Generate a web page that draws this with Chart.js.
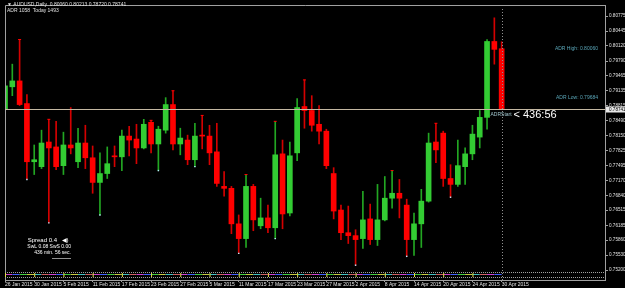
<!DOCTYPE html>
<html>
<head>
<meta charset="utf-8">
<script src="https://cdn.jsdelivr.net/npm/chart.js@4.4.1/dist/chart.umd.min.js"></script>
<style>
  html, body { margin: 0; padding: 0; background: #000; }
  #wrap { width: 625px; height: 288px; position: relative; }
</style>
</head>
<body>
<div id="wrap"><canvas id="chart"></canvas></div>
<script>
// AUDUSD daily candles, 26 Jan 2015 .. 30 Apr 2015
const tickDates = ['26 Jan 2015', '30 Jan 2015', '5 Feb 2015', '11 Feb 2015', '17 Feb 2015', '23 Feb 2015',
    '27 Feb 2015', '5 Mar 2015', '11 Mar 2015', '17 Mar 2015', '23 Mar 2015', '27 Mar 2015',
    '2 Apr 2015', '8 Apr 2015', '14 Apr 2015', '20 Apr 2015', '24 Apr 2015', '30 Apr 2015'];

const opens = [0.78726, 0.79224, 0.79353, 0.78856, 0.77579, 0.77471, 0.78012, 0.77904, 0.77493, 0.77947,
    0.77579, 0.77990, 0.77666, 0.77125, 0.77320, 0.77709, 0.77687, 0.78142, 0.78077, 0.77882,
    0.78445, 0.77969, 0.78272, 0.78834, 0.77969, 0.78055, 0.77623, 0.78163, 0.78142, 0.77796,
    0.77038, 0.76995, 0.76216, 0.75892, 0.77038, 0.76173, 0.76346, 0.76130, 0.77752, 0.76454,
    0.77774, 0.78791, 0.78704, 0.78401, 0.78250, 0.77320, 0.76519, 0.76021, 0.75957, 0.75892,
    0.76324, 0.75870, 0.76303, 0.76779, 0.76887, 0.76627, 0.75870, 0.76216, 0.76714, 0.78012,
    0.78207, 0.77211, 0.77082, 0.77471, 0.77752, 0.78120, 0.78553, 0.80219, 0.80060];

const highs = [0.79310, 0.79721, 0.80262, 0.79051, 0.77947, 0.78272, 0.78510, 0.78466, 0.78228, 0.78769,
    0.78315, 0.78380, 0.77925, 0.77774, 0.77904, 0.77925, 0.78272, 0.78358, 0.78401, 0.78510,
    0.78488, 0.78358, 0.78986, 0.79137, 0.78315, 0.78163, 0.78423, 0.78596, 0.78380, 0.78423,
    0.77363, 0.77038, 0.76411, 0.77298, 0.77082, 0.76779, 0.76627, 0.78466, 0.78055, 0.78012,
    0.78964, 0.79375, 0.79029, 0.78813, 0.78293, 0.77449, 0.76627, 0.76606, 0.76086, 0.76930,
    0.76649, 0.77082, 0.77255, 0.77385, 0.77190, 0.76757, 0.76454, 0.76973, 0.78207, 0.78423,
    0.78250, 0.77514, 0.78055, 0.77882, 0.78380, 0.78704, 0.80262, 0.80738, 0.80213];

const lows = [0.78575, 0.79029, 0.78813, 0.77190, 0.77298, 0.77428, 0.76238, 0.77406, 0.77298, 0.77752,
    0.77449, 0.77428, 0.76887, 0.76411, 0.77211, 0.77471, 0.77385, 0.77709, 0.77536, 0.77861,
    0.77774, 0.77385, 0.78207, 0.77839, 0.77731, 0.77514, 0.77471, 0.77861, 0.77514, 0.77038,
    0.76822, 0.76000, 0.75567, 0.75697, 0.76065, 0.76108, 0.76021, 0.75892, 0.76108, 0.76389,
    0.77601, 0.78315, 0.78250, 0.77969, 0.77428, 0.76324, 0.75870, 0.75784, 0.75308, 0.75675,
    0.75762, 0.75740, 0.76281, 0.76562, 0.76346, 0.75502, 0.75524, 0.75697, 0.76692, 0.77558,
    0.77038, 0.76800, 0.77038, 0.77082, 0.77623, 0.77882, 0.78293, 0.79721, 0.78720];

const closes = [0.79245, 0.79353, 0.78834, 0.77579, 0.77623, 0.77990, 0.77882, 0.77471, 0.77947, 0.77882,
    0.77990, 0.77666, 0.77125, 0.77320, 0.77536, 0.77687, 0.78142, 0.78055, 0.77882, 0.78401,
    0.77969, 0.78293, 0.78834, 0.77969, 0.78099, 0.77623, 0.78142, 0.78142, 0.77774, 0.77103,
    0.76995, 0.76216, 0.75892, 0.77038, 0.76303, 0.76346, 0.76130, 0.77731, 0.76433, 0.77709,
    0.78769, 0.78704, 0.78380, 0.78250, 0.77493, 0.76497, 0.76021, 0.75957, 0.75870, 0.76303,
    0.75870, 0.76303, 0.76779, 0.76887, 0.76779, 0.75870, 0.76216, 0.76714, 0.77990, 0.77839,
    0.77211, 0.77082, 0.77493, 0.77752, 0.78185, 0.78553, 0.80219, 0.80046, 0.78741];

// fractal markers (bar indexes)
const fractalUp = [2, 6, 20, 23, 27, 33, 37, 41, 53, 59];
const fractalDown = [3, 6, 13, 21, 26, 32, 37, 48, 55, 61];

const priceTicks = [0.80775, 0.80445, 0.80120, 0.79790, 0.79465, 0.79135, 0.78815, 0.78490, 0.78150,
    0.77825, 0.77495, 0.77170, 0.76840, 0.76515, 0.76185, 0.75860, 0.75530, 0.75200];

const adrHigh = 0.80060;
const adrLow = 0.79684;
const adrText = 'ADR 1058  Today 1493';
const timer = '436:56';

const GREEN = '#33cc33';
const RED = '#ff0000';
const last = closes.length - 1;
const isUp = closes.map((c, i) => c >= opens[i]);
const FONT = "'Liberation Sans', 'DejaVu Sans', sans-serif";

// extra drawing: frame, bid line, texts, bottom strip
const mtPlugin = {
    id: 'mt4extras',
    afterDraw(chart) {
        const ctx = chart.ctx;
        const ca = chart.chartArea;
        const xs = chart.scales.x, ys = chart.scales.y;
        ctx.save();

        // frame top/left
        ctx.strokeStyle = '#a0a0a0';
        ctx.lineWidth = 1;
        ctx.beginPath();
        ctx.moveTo(ca.left + 0.5, ca.bottom);
        ctx.lineTo(ca.left + 0.5, ca.top + 0.5);
        ctx.lineTo(ca.right, ca.top + 0.5);
        ctx.stroke();

        // bottom indicator strip
        const palette = ['#d040d0', '#4060ff', '#40d040', '#c8c840', '#40c0c0', '#d06060'];
        ctx.setLineDash([1, 1]);
        ctx.strokeStyle = '#a0a0a0';
        [ca.bottom - 7.5, ca.bottom - 2.5].forEach(yy => {
            ctx.beginPath();
            ctx.moveTo(ca.left, yy);
            ctx.lineTo(ca.right, yy);
            ctx.stroke();
        });
        ctx.setLineDash([]);
        for (let i = 0; i < last; i++) {
            const x0 = xs.getPixelForValue(i), x1 = xs.getPixelForValue(i + 1);
            ctx.strokeStyle = palette[i % palette.length];
            ctx.beginPath();
            ctx.moveTo(x0, ca.bottom - 5.5);
            ctx.lineTo(x1, ca.bottom - 5.5);
            ctx.stroke();
            if (i % 4 === 0) {
                ctx.strokeStyle = '#e0e040';
                ctx.beginPath();
                ctx.moveTo(x0 + 0.5, ca.bottom - 7);
                ctx.lineTo(x0 + 0.5, ca.bottom - 3);
                ctx.stroke();
            }
        }

        // vertical dotted line on current bar
        const vx = Math.round(xs.getPixelForValue(last)) + 0.5;
        ctx.strokeStyle = '#909090';
        ctx.setLineDash([1, 2]);
        ctx.beginPath();
        ctx.moveTo(vx, ca.top + 4);
        ctx.lineTo(vx, ca.bottom);
        ctx.stroke();
        ctx.setLineDash([]);

        // bid line
        const by = Math.round(ys.getPixelForValue(closes[last])) + 0.5;
        ctx.strokeStyle = '#c4b8a2';
        ctx.beginPath();
        ctx.moveTo(ca.left, by);
        ctx.lineTo(ca.right, by);
        ctx.stroke();

        // price box on axis
        ctx.fillStyle = '#e8e8e8';
        ctx.fillRect(ca.right + 1, by - 3, 19, 6);
        ctx.fillStyle = '#000';
        ctx.font = '4.6px ' + FONT;
        ctx.textBaseline = 'middle';
        ctx.textAlign = 'left';
        ctx.fillText(closes[last].toFixed(5), ca.right + 4, by);

        // header
        ctx.fillStyle = '#e0e0e0';
        ctx.font = '5px ' + FONT;
        ctx.fillText('\u25BC AUDUSD,Daily  ' + [opens[last], highs[last], lows[last], closes[last]]
            .map(v => v.toFixed(5)).join(' '), ca.left + 2, 4.5);
        ctx.fillText(adrText, ca.left + 2, 10.5);

        // ADR labels
        ctx.fillStyle = '#5aa6b8';
        ctx.textAlign = 'right';
        ctx.fillText('ADR High: ' + adrHigh.toFixed(5), ca.right - 7, 49);
        ctx.fillText('ADR Low: ' + adrLow.toFixed(5), ca.right - 7, 98);

        // ADR start + countdown
        ctx.textAlign = 'left';
        ctx.fillStyle = '#9fc4cc';
        ctx.fillText('ADRStart', vx - 12, by + 5);
        ctx.fillStyle = '#ffffff';
        ctx.font = '11px ' + FONT;
        ctx.fillText('< ' + timer, vx + 11, by + 5);

        // spread box
        ctx.textAlign = 'right';
        ctx.font = '6px ' + FONT;
        ctx.fillText('Spread 0.4', 57, 240);
        ctx.textAlign = 'left';
        ctx.fillText('\u25C0)', 62, 240);
        ctx.textAlign = 'right';
        ctx.font = '5px ' + FONT;
        ctx.fillText('SwL 0.08 SwS 0.00', 71, 247);
        ctx.fillText(timer.replace(':', ' min. ') + ' sec.', 71, 253);
        ctx.strokeStyle = '#909090';
        ctx.beginPath();
        ctx.moveTo(52, 258.5);
        ctx.lineTo(71, 258.5);
        ctx.stroke();

        ctx.restore();
    }
};

const idx = opens.map((_, i) => i);

new Chart(document.getElementById('chart'), {
    type: 'bar',
    data: {
        datasets: [
            {
                label: 'wicks',
                data: idx.map(i => ({ x: i, y: [lows[i], highs[i]] })),
                backgroundColor: idx.map(i => isUp[i] ? '#22a622' : '#d40000'),
                barThickness: 1,
                grouped: false,
                order: 2
            },
            {
                label: 'bodies',
                data: idx.map(i => ({ x: i, y: [opens[i], closes[i]] })),
                backgroundColor: idx.map(i => isUp[i] ? GREEN : RED),
                barThickness: 5,
                minBarLength: 1,
                grouped: false,
                order: 1
            },
            {
                type: 'scatter',
                label: 'up',
                data: fractalUp.map(i => ({ x: i, y: highs[i] })),
                pointStyle: 'line',
                radius: 1.5,
                borderColor: RED,
                borderWidth: 1,
                order: 0
            },
            {
                type: 'scatter',
                label: 'down',
                data: fractalDown.map(i => ({ x: i, y: lows[i] })),
                pointStyle: 'rect',
                radius: 1,
                backgroundColor: '#b8ecff',
                borderWidth: 0,
                order: 0
            }
        ]
    },
    options: {
        responsive: true,
        maintainAspectRatio: false,
        animation: false,
        layout: { padding: { left: 2, top: 1, right: 0, bottom: 0 } },
        plugins: { legend: { display: false }, tooltip: { enabled: false } },
        scales: {
            x: {
                type: 'linear',
                min: 0,
                max: 82.15,
                offset: false,
                afterFit(scale) { scale.height = 8; },
                afterBuildTicks(scale) {
                    scale.ticks = tickDates.map((_, k) => ({ value: k * 4 }));
                },
                ticks: {
                    autoSkip: false,
                    maxRotation: 0,
                    align: 'start',
                    padding: 0,
                    color: '#e0e0e0',
                    font: { size: 5, family: FONT },
                    callback: (v) => tickDates[v / 4]
                },
                grid: { drawOnChartArea: false, offset: false, tickLength: 2, color: '#a0a0a0' },
                border: { color: '#a0a0a0' }
            },
            y: {
                position: 'right',
                min: 0.749832,
                max: 0.810195,
                afterFit(scale) { scale.width = 20; },
                afterBuildTicks(scale) {
                    scale.ticks = priceTicks.map(v => ({ value: v }));
                },
                ticks: {
                    padding: 1,
                    color: '#e0e0e0',
                    font: { size: 4.6, family: FONT },
                    callback: (v) => v.toFixed(5)
                },
                grid: { drawOnChartArea: false, tickLength: 3, color: '#a0a0a0' },
                border: { color: '#a0a0a0' }
            }
        }
    },
    plugins: [mtPlugin]
});
</script>
</body>
</html>
